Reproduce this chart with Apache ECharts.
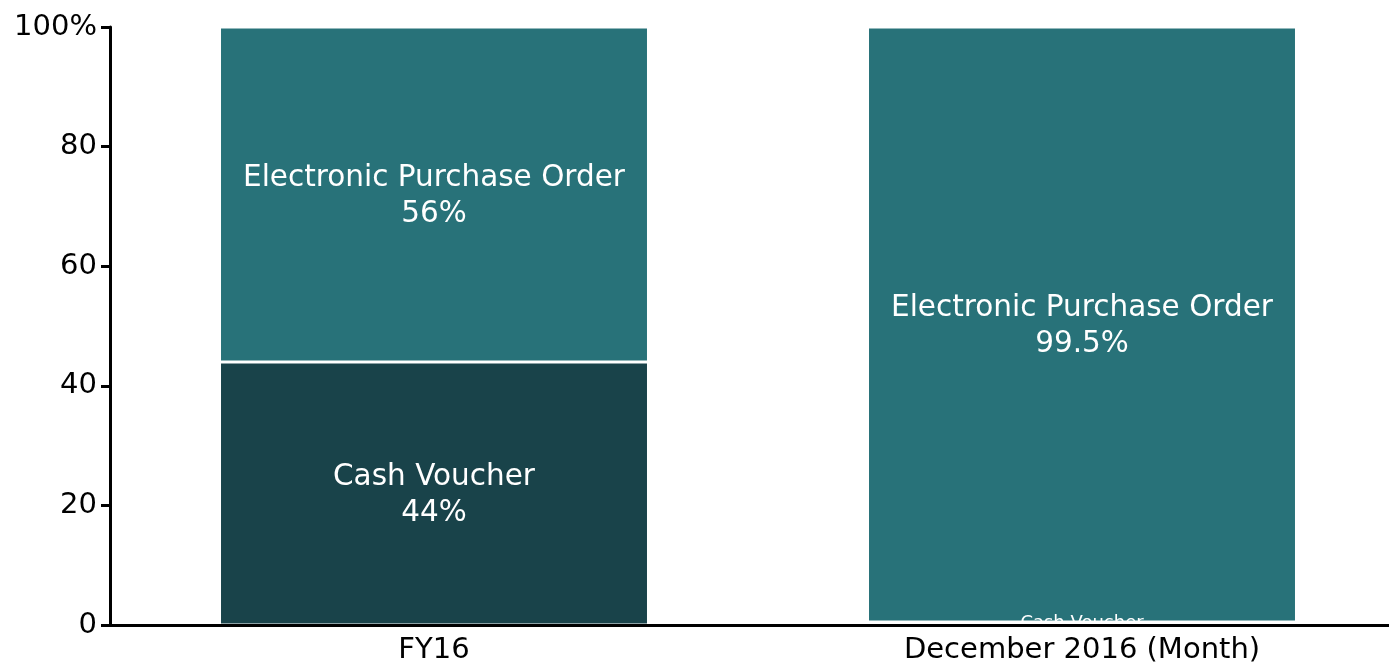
<!DOCTYPE html>
<html>
<head>
<meta charset="utf-8">
<script src="https://cdn.jsdelivr.net/npm/echarts@6/dist/echarts.min.js"></script>
<style>
html,body{margin:0;padding:0;background:#fff;overflow:hidden;}
#chart{width:1406px;height:665px;}
</style>
</head>
<body>
<div id="chart"></div>
<script>
const categories = ['FY16', 'December 2016 (Month)'];
const cashVoucher = [44, 0.5];
const electronicPO = [56, 99.5];
const yTicks = [0, 20, 40, 60, 80, 100];

const FONT = 'DejaVu Sans';
const chart = echarts.init(document.getElementById('chart'));

function labelFor(v) {
  if (v < 5) {
    return {
      show: true, position: 'inside', fontSize: 18, lineHeight: 22,
      offset: [0, 11], color: '#fff', fontFamily: FONT
    };
  }
  return { show: true };
}

const bigLabel = {
  show: true, position: 'inside', color: '#fff', fontSize: 29.5, lineHeight: 36,
  offset: [0, 2], fontFamily: FONT, formatter: p => p.seriesName + '\n' + p.value + '%'
};

chart.setOption({
  animation: false,
  backgroundColor: '#fff',
  grid: { left: 110, right: 0, top: 27, bottom: 40, containLabel: false },
  xAxis: {
    type: 'category',
    data: categories,
    z: 10,
    axisLine: { lineStyle: { color: '#000', width: 3 } },
    axisTick: { show: false },
    axisLabel: { color: '#000', fontSize: 29, fontFamily: FONT, margin: 11 }
  },
  yAxis: {
    type: 'value',
    min: yTicks[0], max: yTicks[yTicks.length - 1], interval: 20,
    axisLine: { show: true, lineStyle: { color: '#000', width: 3 } },
    axisTick: { show: true, length: 9, lineStyle: { color: '#000', width: 3 } },
    splitLine: { show: false },
    axisLabel: {
      color: '#000', fontSize: 29, fontFamily: FONT, margin: 13,
      formatter: v => v === 100 ? '100%' : String(v)
    }
  },
  series: [
    {
      name: 'Cash Voucher',
      type: 'bar',
      stack: 'total',
      barWidth: '66.2%',
      data: cashVoucher.map(v => ({ value: v, label: labelFor(v) })),
      itemStyle: { color: '#19434a', borderColor: '#fff', borderWidth: 1.5 },
      label: bigLabel
    },
    {
      name: 'Electronic Purchase Order',
      type: 'bar',
      stack: 'total',
      barWidth: '66.2%',
      data: electronicPO,
      itemStyle: { color: '#287279', borderColor: '#fff', borderWidth: 1.5 },
      label: bigLabel
    }
  ]
});
</script>
</body>
</html>
